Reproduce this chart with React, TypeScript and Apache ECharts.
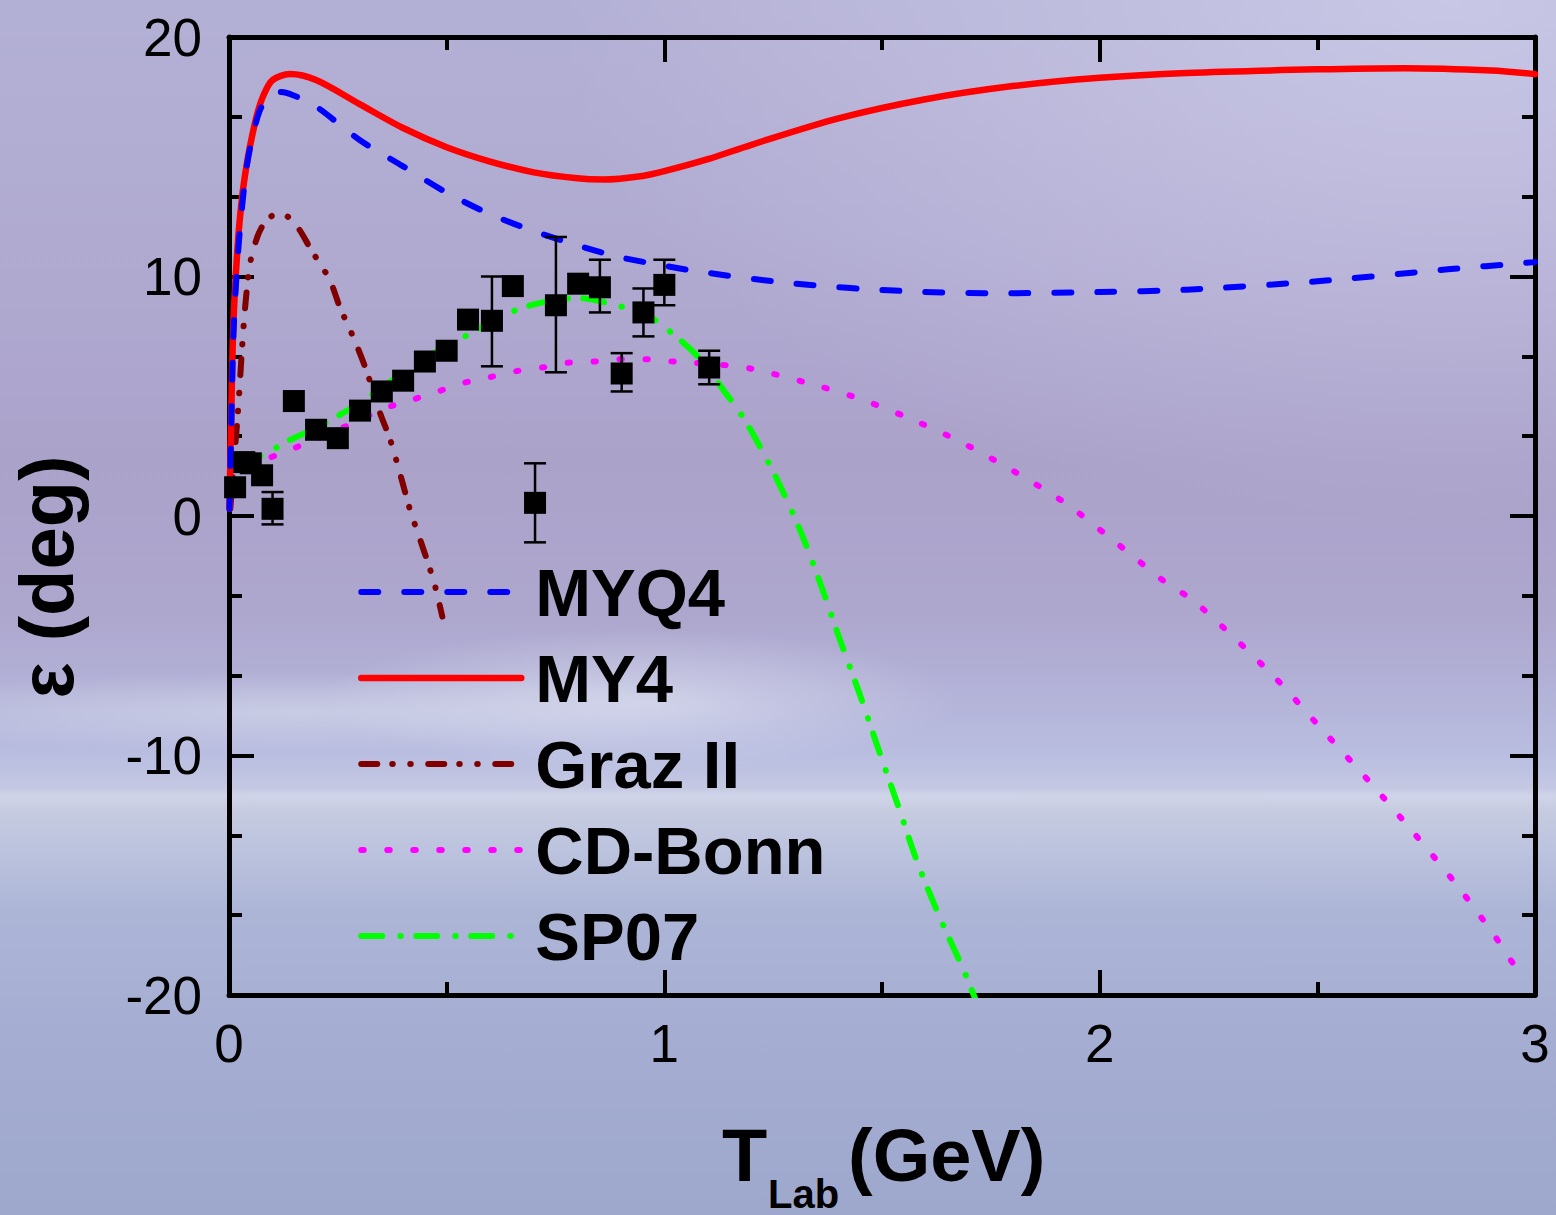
import React, { useEffect, useRef } from "react";
import * as echarts from "echarts";

const FONT = '"Liberation Sans", Arial, Helvetica, sans-serif';

// X / Y tick values
const X_TICKS = [0, 1, 2, 3];
const Y_TICKS = [-20, -10, 0, 10, 20];

// MY4 (red solid)
const MY4_T = [0.001, 0.005, 0.01, 0.02, 0.03, 0.04, 0.05, 0.065, 0.08, 0.1, 0.14, 0.2, 0.3, 0.4, 0.5, 0.6, 0.7, 0.8, 0.86, 0.95, 1.0, 1.1, 1.2, 1.4, 1.6, 1.8, 2.0, 2.2, 2.5, 2.7, 2.9, 3.0];
const MY4_E = [0.3, 4.0, 8.0, 11.3, 13.3, 14.6, 15.6, 16.8, 17.6, 18.2, 18.45, 18.2, 17.2, 16.2, 15.4, 14.8, 14.35, 14.1, 14.05, 14.2, 14.4, 14.9, 15.5, 16.6, 17.4, 17.95, 18.3, 18.5, 18.65, 18.7, 18.6, 18.45];

// MYQ4 (blue dashed)
const MYQ4_T = [0.001, 0.005, 0.01, 0.02, 0.03, 0.04, 0.05, 0.07, 0.09, 0.117, 0.15, 0.2, 0.3, 0.4, 0.5, 0.6, 0.7, 0.8, 0.9, 1.0, 1.1, 1.3, 1.54, 1.77, 2.0, 2.2, 2.5, 2.8, 3.0];
const MYQ4_E = [0.3, 3.5, 7.5, 10.8, 12.9, 14.5, 15.5, 16.9, 17.45, 17.7, 17.55, 17.1, 15.7, 14.6, 13.5, 12.6, 11.9, 11.3, 10.8, 10.45, 10.15, 9.7, 9.4, 9.3, 9.35, 9.45, 9.8, 10.3, 10.6];

// Graz II (dark red dash-dot-dot)
const GRAZ_T = [0.003, 0.01, 0.02, 0.03, 0.037, 0.048, 0.064, 0.08, 0.1, 0.118, 0.135, 0.16, 0.186, 0.21, 0.232, 0.255, 0.275, 0.294, 0.317, 0.347, 0.37, 0.397, 0.416, 0.443, 0.47, 0.49];
const GRAZ_E = [0.3, 2.0, 4.2, 7.0, 8.7, 10.5, 11.6, 12.2, 12.55, 12.65, 12.5, 12.0, 11.2, 10.5, 9.85, 8.7, 7.9, 7.1, 6.0, 4.3, 3.2, 1.5, 0.25, -1.2, -2.7, -4.2];

// CD-Bonn (magenta dotted)
const CDB_T = [0.04, 0.08, 0.117, 0.179, 0.25, 0.3, 0.358, 0.42, 0.48, 0.537, 0.6, 0.66, 0.72, 0.78, 0.84, 0.9, 0.96, 1.02, 1.14, 1.2, 1.32, 1.44, 1.56, 1.68, 1.8, 1.92, 2.03, 2.15, 2.22, 2.4, 2.51, 2.62, 2.72, 2.82, 2.91, 2.95];
const CDB_E = [2.2, 2.35, 2.6, 3.05, 3.6, 4.0, 4.5, 4.85, 5.2, 5.55, 5.8, 6.05, 6.2, 6.4, 6.45, 6.55, 6.55, 6.45, 6.3, 6.15, 5.6, 4.95, 4.1, 3.1, 1.9, 0.55, -1.0, -2.75, -3.6, -6.7, -8.9, -11.1, -13.2, -15.4, -17.6, -18.7];

// SP07 (green dash-dot)
const SP07_T = [0.025, 0.087, 0.125, 0.179, 0.262, 0.34, 0.416, 0.48, 0.547, 0.6, 0.66, 0.715, 0.8, 0.9, 0.96, 1.036, 1.085, 1.13, 1.185, 1.254, 1.312, 1.36, 1.404, 1.45, 1.493, 1.537, 1.58, 1.629, 1.686, 1.715];
const SP07_E = [2.3, 2.6, 3.05, 3.5, 4.3, 5.2, 6.2, 6.9, 7.55, 8.1, 8.6, 8.9, 9.1, 8.75, 8.4, 7.35, 6.5, 5.4, 4.0, 1.7, -0.6, -2.9, -5.2, -7.5, -9.8, -12.1, -14.4, -16.6, -18.9, -20.2];

// Experimental points
const PT_T = [0.014, 0.035, 0.05, 0.076, 0.1, 0.149, 0.2, 0.25, 0.301, 0.351, 0.4, 0.45, 0.5, 0.549, 0.604, 0.652, 0.703, 0.751, 0.802, 0.852, 0.902, 0.952, 1.0, 1.103];
const PT_E = [1.2, 2.25, 2.2, 1.7, 0.3, 4.8, 3.6, 3.25, 4.4, 5.2, 5.65, 6.45, 6.9, 8.2, 8.15, 9.6, 0.55, 8.8, 9.7, 9.55, 5.95, 8.5, 9.65, 6.2];

// Error bars
const ERR_T = [0.1, 0.604, 0.703, 0.751, 0.852, 0.902, 0.952, 1.0, 1.103];
const ERR_LO = [-0.35, 6.25, -1.1, 6.0, 8.5, 5.2, 7.5, 8.8, 5.5];
const ERR_HI = [1.0, 10.0, 2.2, 11.65, 10.7, 6.8, 9.5, 10.7, 6.9];

const LEGEND_ORDER = ["MYQ4", "MY4", "Graz II", "CD-Bonn", "SP07"];

function pairs(t: number[], e: number[]) {
  return t.map((x, i) => [x, e[i]]);
}

export default function App() {
  const ref = useRef<HTMLDivElement>(null);

  useEffect(() => {
    document.body.style.margin = "0";
    const chart = echarts.init(ref.current!, null, { renderer: "svg" });

    const tickStyle = { color: "#000", width: 4 };
    const makeX = (pos: "bottom" | "top", showLabel: boolean) => ({
      type: "value",
      position: pos,
      min: X_TICKS[0],
      max: X_TICKS[X_TICKS.length - 1],
      interval: 1,
      axisLine: { show: true, onZero: false, lineStyle: { color: "#000", width: 5 } },
      axisTick: { show: true, inside: true, length: 25, lineStyle: tickStyle },
      minorTick: { show: true, splitNumber: 2, length: 13, lineStyle: tickStyle },
      splitLine: { show: false },
      minorSplitLine: { show: false },
      axisLabel: {
        show: showLabel,
        fontSize: 53,
        fontFamily: FONT,
        color: "#000",
        margin: 22,
        formatter: (v: number) => String(v),
      },
    });
    const makeY = (pos: "left" | "right", showLabel: boolean) => ({
      type: "value",
      position: pos,
      min: Y_TICKS[0],
      max: Y_TICKS[Y_TICKS.length - 1],
      interval: 10,
      axisLine: { show: true, onZero: false, lineStyle: { color: "#000", width: 5 } },
      axisTick: { show: true, inside: true, length: 25, lineStyle: tickStyle },
      minorTick: { show: true, splitNumber: 3, length: 13, lineStyle: tickStyle },
      splitLine: { show: false },
      minorSplitLine: { show: false },
      axisLabel: {
        show: showLabel,
        fontSize: 53,
        fontFamily: FONT,
        color: "#000",
        margin: 27,
        formatter: (v: number) => String(v),
      },
    });

    const lineSeries = (name: string, t: number[], e: number[], color: string, width: number, type: any, z: number) => ({
      type: "line",
      name,
      data: pairs(t, e),
      symbol: "none",
      showSymbol: false,
      smooth: 0.3,
      clip: true,
      z,
      lineStyle: { color, width, type, cap: "round", join: "round" },
      itemStyle: { color },
    });

    const option: any = {
      animation: false,
      backgroundColor: "transparent",
      grid: { left: 229, right: 21, top: 37, bottom: 220, containLabel: false },
      xAxis: [makeX("bottom", true), makeX("top", false)],
      yAxis: [makeY("left", true), makeY("right", false)],
      legend: {
        orient: "vertical",
        left: 358,
        top: 554,
        padding: 0,
        itemWidth: 160,
        itemHeight: 20,
        itemGap: 10,
        data: LEGEND_ORDER,
        selectedMode: false,
        itemStyle: { opacity: 0 },
        lineStyle: { width: "inherit", opacity: 1 },
        textStyle: {
          fontSize: 67,
          fontWeight: "bold",
          fontFamily: FONT,
          color: "#000",
          lineHeight: 68,
          padding: [8, 0, 0, 9],
        },
      },
      graphic: [
        {
          type: "text",
          x: 46,
          y: 577,
          rotation: Math.PI / 2,
          style: {
            text: "ε (deg)",
            font: `bold 76px ${FONT}`,
            fill: "#000",
            align: "center",
            verticalAlign: "middle",
          },
        },
        {
          type: "text",
          x: 722,
          y: 1155,
          style: { text: "T", font: `bold 74px ${FONT}`, fill: "#000", align: "left", verticalAlign: "middle" },
        },
        {
          type: "text",
          x: 768,
          y: 1214,
          style: { text: "Lab", font: `bold 40px ${FONT}`, fill: "#000", align: "left", verticalAlign: "bottom" },
        },
        {
          type: "text",
          x: 848,
          y: 1155,
          style: { text: "(GeV)", font: `bold 74px ${FONT}`, fill: "#000", align: "left", verticalAlign: "middle" },
        },
      ],
      series: [
        lineSeries("SP07", SP07_T, SP07_E, "#00ff00", 6, [21, 18, 0.5, 15.5], 2),
        lineSeries("CD-Bonn", CDB_T, CDB_E, "#ff00ff", 6, [2.5, 23.5], 2),
        lineSeries("Graz II", GRAZ_T, GRAZ_E, "#800000", 6, [16, 15, 0.5, 17.5, 0.5, 17.5], 2),
        lineSeries("MY4", MY4_T, MY4_E, "#ff0000", 6.5, "solid", 2),
        lineSeries("MYQ4", MYQ4_T, MYQ4_E, "#0000ff", 6, [17, 26], 2),
        {
          type: "custom",
          name: "errors",
          data: ERR_T.map((t, i) => [t, ERR_LO[i], ERR_HI[i]]),
          encode: { x: 0, y: [1, 2] },
          z: 3,
          renderItem: (params: any, api: any) => {
            const lo = api.coord([api.value(0), api.value(1)]);
            const hi = api.coord([api.value(0), api.value(2)]);
            const w = 11;
            const st = { stroke: "#000", lineWidth: 2.5 };
            return {
              type: "group",
              children: [
                { type: "line", shape: { x1: lo[0], y1: lo[1], x2: hi[0], y2: hi[1] }, style: st },
                { type: "line", shape: { x1: lo[0] - w, y1: lo[1], x2: lo[0] + w, y2: lo[1] }, style: st },
                { type: "line", shape: { x1: hi[0] - w, y1: hi[1], x2: hi[0] + w, y2: hi[1] }, style: st },
              ],
            };
          },
        },
        {
          type: "scatter",
          name: "data",
          data: pairs(PT_T, PT_E),
          symbol: "rect",
          symbolSize: 22,
          itemStyle: { color: "#000", opacity: 1 },
          z: 4,
        },
      ],
    };

    chart.setOption(option);
    return () => chart.dispose();
  }, []);

  const bg = [
    "radial-gradient(ellipse 900px 520px at 1450px 0px, rgba(214,214,240,0.6), rgba(214,214,240,0) 100%)",
    "radial-gradient(ellipse 320px 70px at 640px 700px, rgba(228,232,244,0.55), rgba(228,232,244,0) 100%)",
    "radial-gradient(ellipse 500px 40px at 300px 712px, rgba(225,232,240,0.45), rgba(225,232,240,0) 100%)",
    "linear-gradient(180deg, #b3b0d5 0%, #b0aad1 20%, #aba2ca 38%, #ada6cd 50%, #b2b0d6 56%, #b9bde0 62%, #c4c8e3 64.8%, #d0d4e8 65.5%, #c6cbe0 66.8%, #bcc3de 70%, #adb5d7 75%, #a5add2 85%, #9ea8cc 100%)",
  ].join(", ");

  return <div ref={ref} style={{ width: 1556, height: 1215, background: bg }} />;
}
